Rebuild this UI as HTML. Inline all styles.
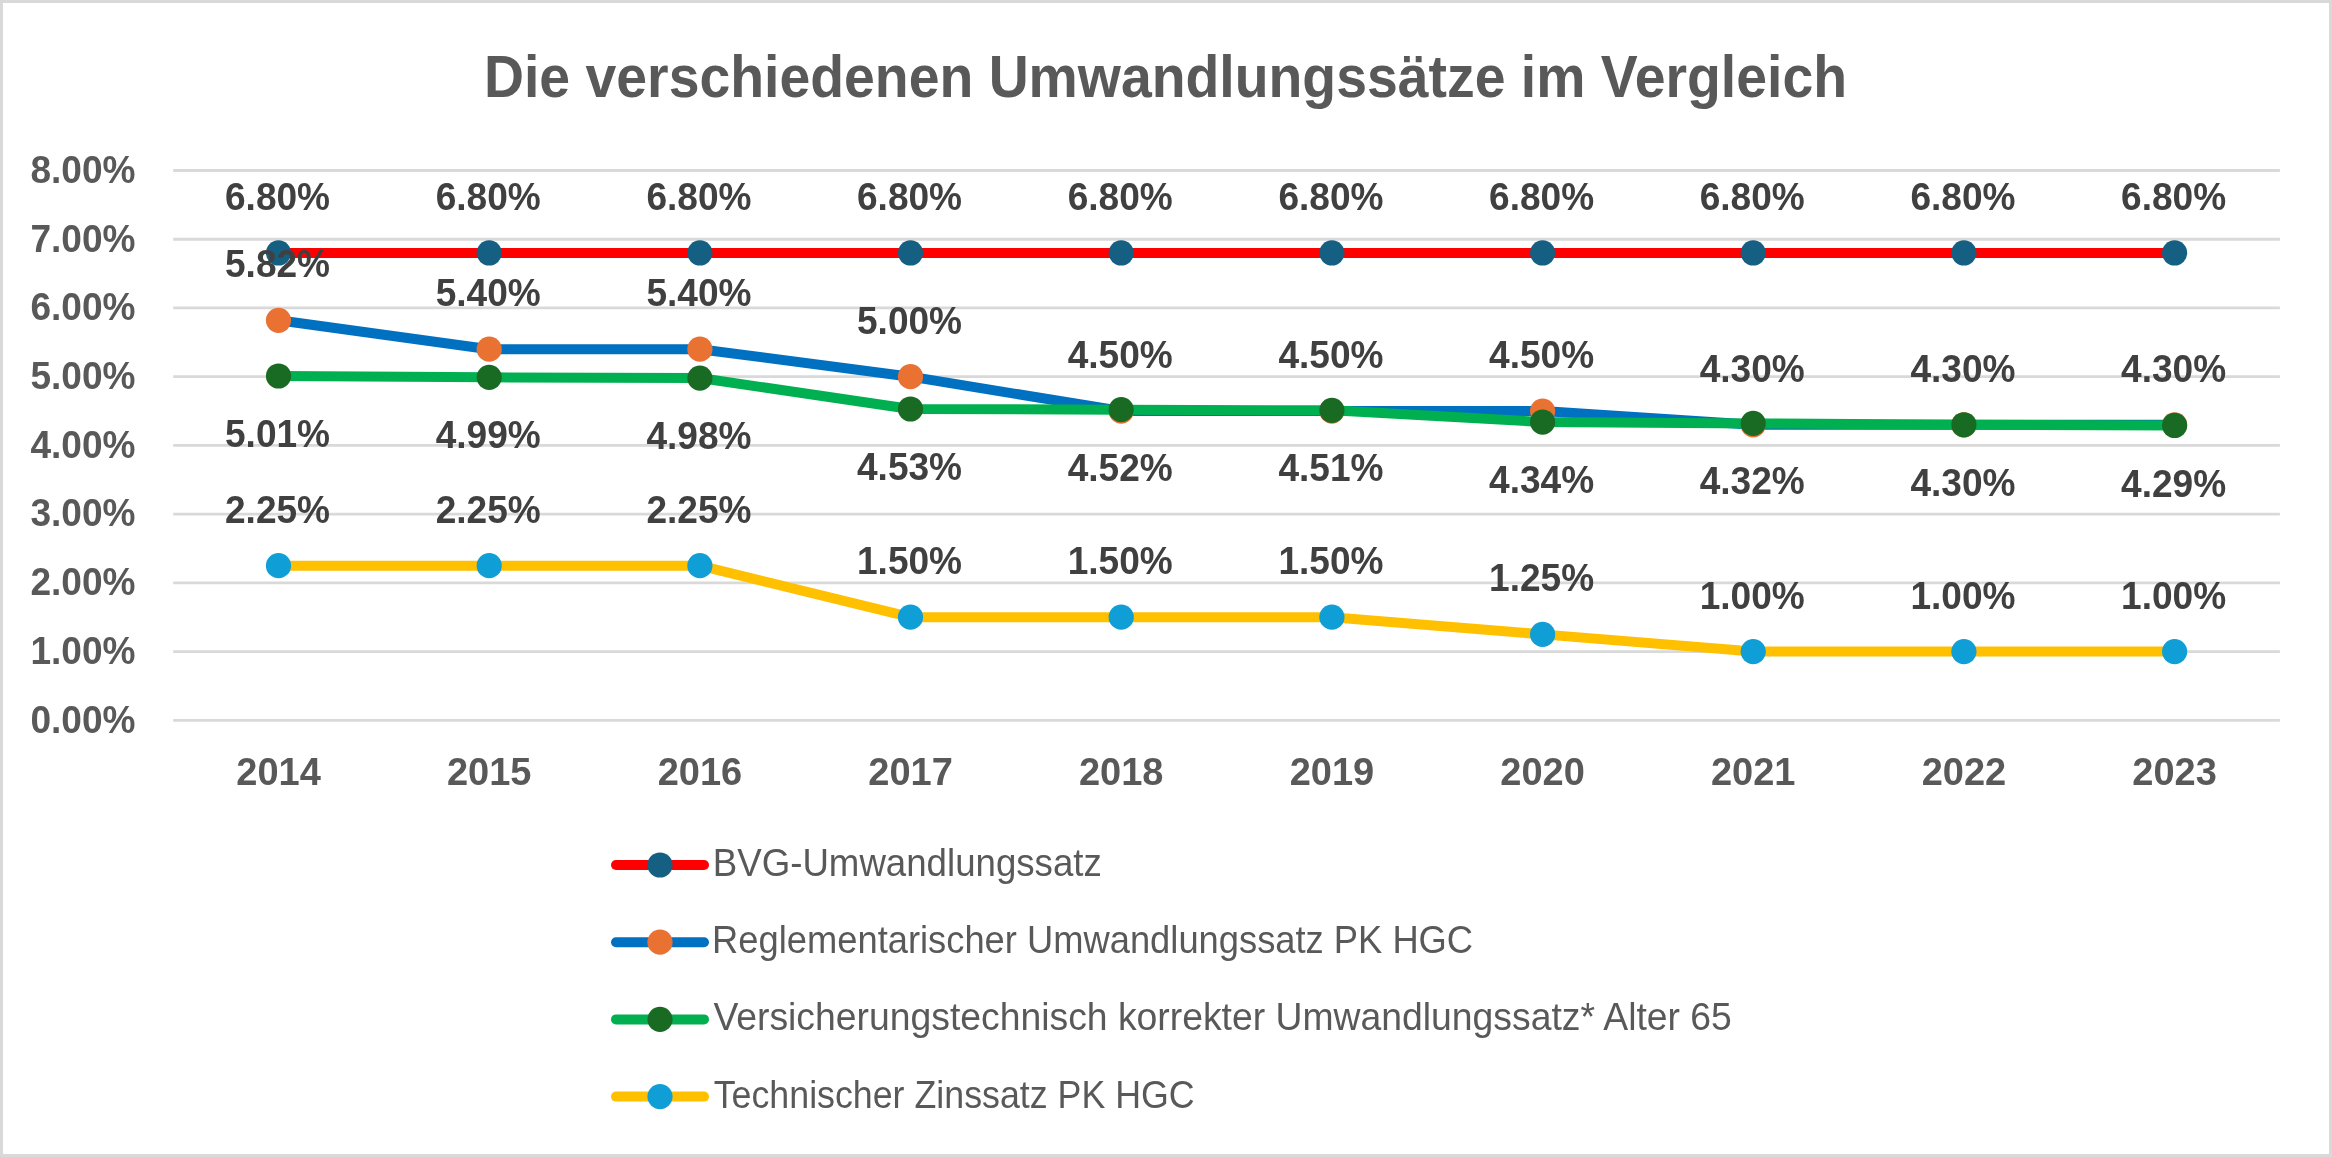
<!DOCTYPE html>
<html><head><meta charset="utf-8"><title>Die verschiedenen Umwandlungssätze im Vergleich</title><style>html,body{margin:0;padding:0;background:#fff;overflow:hidden;}svg{display:block;will-change:transform;}text{font-family:"Liberation Sans",sans-serif;}</style></head><body>
<svg width="2332" height="1157" viewBox="0 0 2332 1157">
<rect x="0" y="0" width="2332" height="1157" fill="#fff"/>
<rect x="1.5" y="1.5" width="2329" height="1154" fill="none" stroke="#D9D9D9" stroke-width="3"/>
<text x="484" y="97.2" font-size="60" font-weight="bold" fill="#595959" textLength="1363" lengthAdjust="spacingAndGlyphs">Die verschiedenen Umwandlungssätze im Vergleich</text>
<g stroke="#D9D9D9" stroke-width="2.8">
<line x1="173.2" y1="720.30" x2="2279.9" y2="720.30"/>
<line x1="173.2" y1="651.57" x2="2279.9" y2="651.57"/>
<line x1="173.2" y1="582.85" x2="2279.9" y2="582.85"/>
<line x1="173.2" y1="514.12" x2="2279.9" y2="514.12"/>
<line x1="173.2" y1="445.40" x2="2279.9" y2="445.40"/>
<line x1="173.2" y1="376.67" x2="2279.9" y2="376.67"/>
<line x1="173.2" y1="307.95" x2="2279.9" y2="307.95"/>
<line x1="173.2" y1="239.23" x2="2279.9" y2="239.23"/>
<line x1="173.2" y1="170.50" x2="2279.9" y2="170.50"/>
</g>
<g font-size="38.4" font-weight="bold" fill="#595959">
<text transform="translate(135.5 732.6) scale(0.965 1)" text-anchor="end">0.00%</text>
<text transform="translate(135.5 663.9) scale(0.965 1)" text-anchor="end">1.00%</text>
<text transform="translate(135.5 595.1) scale(0.965 1)" text-anchor="end">2.00%</text>
<text transform="translate(135.5 526.4) scale(0.965 1)" text-anchor="end">3.00%</text>
<text transform="translate(135.5 457.7) scale(0.965 1)" text-anchor="end">4.00%</text>
<text transform="translate(135.5 389.0) scale(0.965 1)" text-anchor="end">5.00%</text>
<text transform="translate(135.5 320.2) scale(0.965 1)" text-anchor="end">6.00%</text>
<text transform="translate(135.5 251.5) scale(0.965 1)" text-anchor="end">7.00%</text>
<text transform="translate(135.5 182.8) scale(0.965 1)" text-anchor="end">8.00%</text>
<text transform="translate(278.5 785) scale(0.99 1)" text-anchor="middle">2014</text>
<text transform="translate(489.2 785) scale(0.99 1)" text-anchor="middle">2015</text>
<text transform="translate(699.9 785) scale(0.99 1)" text-anchor="middle">2016</text>
<text transform="translate(910.5 785) scale(0.99 1)" text-anchor="middle">2017</text>
<text transform="translate(1121.2 785) scale(0.99 1)" text-anchor="middle">2018</text>
<text transform="translate(1331.9 785) scale(0.99 1)" text-anchor="middle">2019</text>
<text transform="translate(1542.6 785) scale(0.99 1)" text-anchor="middle">2020</text>
<text transform="translate(1753.2 785) scale(0.99 1)" text-anchor="middle">2021</text>
<text transform="translate(1963.9 785) scale(0.99 1)" text-anchor="middle">2022</text>
<text transform="translate(2174.6 785) scale(0.99 1)" text-anchor="middle">2023</text>
</g>
<polyline points="278.5,252.97 489.2,252.97 699.9,252.97 910.5,252.97 1121.2,252.97 1331.9,252.97 1542.6,252.97 1753.2,252.97 1963.9,252.97 2174.6,252.97" fill="none" stroke="#FF0000" stroke-width="10" stroke-linejoin="round" stroke-linecap="round"/>
<g fill="#156082">
<circle cx="278.5" cy="252.97" r="12.6"/>
<circle cx="489.2" cy="252.97" r="12.6"/>
<circle cx="699.9" cy="252.97" r="12.6"/>
<circle cx="910.5" cy="252.97" r="12.6"/>
<circle cx="1121.2" cy="252.97" r="12.6"/>
<circle cx="1331.9" cy="252.97" r="12.6"/>
<circle cx="1542.6" cy="252.97" r="12.6"/>
<circle cx="1753.2" cy="252.97" r="12.6"/>
<circle cx="1963.9" cy="252.97" r="12.6"/>
<circle cx="2174.6" cy="252.97" r="12.6"/>
</g>
<polyline points="278.5,320.32 489.2,349.18 699.9,349.18 910.5,376.67 1121.2,411.04 1331.9,411.04 1542.6,411.04 1753.2,424.78 1963.9,424.78 2174.6,424.78" fill="none" stroke="#0070C0" stroke-width="10" stroke-linejoin="round" stroke-linecap="round"/>
<g fill="#E97132">
<circle cx="278.5" cy="320.32" r="12.6"/>
<circle cx="489.2" cy="349.18" r="12.6"/>
<circle cx="699.9" cy="349.18" r="12.6"/>
<circle cx="910.5" cy="376.67" r="12.6"/>
<circle cx="1121.2" cy="411.04" r="12.6"/>
<circle cx="1331.9" cy="411.04" r="12.6"/>
<circle cx="1542.6" cy="411.04" r="12.6"/>
<circle cx="1753.2" cy="424.78" r="12.6"/>
<circle cx="1963.9" cy="424.78" r="12.6"/>
<circle cx="2174.6" cy="424.78" r="12.6"/>
</g>
<polyline points="278.5,375.99 489.2,377.36 699.9,378.05 910.5,408.98 1121.2,409.66 1331.9,410.35 1542.6,422.03 1753.2,423.41 1963.9,424.78 2174.6,425.47" fill="none" stroke="#00B050" stroke-width="10" stroke-linejoin="round" stroke-linecap="round"/>
<g fill="#196B24">
<circle cx="278.5" cy="375.99" r="12.6"/>
<circle cx="489.2" cy="377.36" r="12.6"/>
<circle cx="699.9" cy="378.05" r="12.6"/>
<circle cx="910.5" cy="408.98" r="12.6"/>
<circle cx="1121.2" cy="409.66" r="12.6"/>
<circle cx="1331.9" cy="410.35" r="12.6"/>
<circle cx="1542.6" cy="422.03" r="12.6"/>
<circle cx="1753.2" cy="423.41" r="12.6"/>
<circle cx="1963.9" cy="424.78" r="12.6"/>
<circle cx="2174.6" cy="425.47" r="12.6"/>
</g>
<polyline points="278.5,565.67 489.2,565.67 699.9,565.67 910.5,617.21 1121.2,617.21 1331.9,617.21 1542.6,634.39 1753.2,651.57 1963.9,651.57 2174.6,651.57" fill="none" stroke="#FFC000" stroke-width="10" stroke-linejoin="round" stroke-linecap="round"/>
<g fill="#0F9ED5">
<circle cx="278.5" cy="565.67" r="12.6"/>
<circle cx="489.2" cy="565.67" r="12.6"/>
<circle cx="699.9" cy="565.67" r="12.6"/>
<circle cx="910.5" cy="617.21" r="12.6"/>
<circle cx="1121.2" cy="617.21" r="12.6"/>
<circle cx="1331.9" cy="617.21" r="12.6"/>
<circle cx="1542.6" cy="634.39" r="12.6"/>
<circle cx="1753.2" cy="651.57" r="12.6"/>
<circle cx="1963.9" cy="651.57" r="12.6"/>
<circle cx="2174.6" cy="651.57" r="12.6"/>
</g>
<g font-size="38.4" font-weight="bold" fill="#404040">
<text transform="translate(277.5 210.0) scale(0.965 1)" text-anchor="middle">6.80%</text>
<text transform="translate(488.2 210.0) scale(0.965 1)" text-anchor="middle">6.80%</text>
<text transform="translate(698.9 210.0) scale(0.965 1)" text-anchor="middle">6.80%</text>
<text transform="translate(909.5 210.0) scale(0.965 1)" text-anchor="middle">6.80%</text>
<text transform="translate(1120.2 210.0) scale(0.965 1)" text-anchor="middle">6.80%</text>
<text transform="translate(1330.9 210.0) scale(0.965 1)" text-anchor="middle">6.80%</text>
<text transform="translate(1541.6 210.0) scale(0.965 1)" text-anchor="middle">6.80%</text>
<text transform="translate(1752.2 210.0) scale(0.965 1)" text-anchor="middle">6.80%</text>
<text transform="translate(1962.9 210.0) scale(0.965 1)" text-anchor="middle">6.80%</text>
<text transform="translate(2173.6 210.0) scale(0.965 1)" text-anchor="middle">6.80%</text>
<text transform="translate(277.5 277.3) scale(0.965 1)" text-anchor="middle">5.82%</text>
<text transform="translate(488.2 306.2) scale(0.965 1)" text-anchor="middle">5.40%</text>
<text transform="translate(698.9 306.2) scale(0.965 1)" text-anchor="middle">5.40%</text>
<text transform="translate(909.5 333.7) scale(0.965 1)" text-anchor="middle">5.00%</text>
<text transform="translate(1120.2 368.0) scale(0.965 1)" text-anchor="middle">4.50%</text>
<text transform="translate(1330.9 368.0) scale(0.965 1)" text-anchor="middle">4.50%</text>
<text transform="translate(1541.6 368.0) scale(0.965 1)" text-anchor="middle">4.50%</text>
<text transform="translate(1752.2 381.8) scale(0.965 1)" text-anchor="middle">4.30%</text>
<text transform="translate(1962.9 381.8) scale(0.965 1)" text-anchor="middle">4.30%</text>
<text transform="translate(2173.6 381.8) scale(0.965 1)" text-anchor="middle">4.30%</text>
<text transform="translate(277.5 447.0) scale(0.965 1)" text-anchor="middle">5.01%</text>
<text transform="translate(488.2 448.4) scale(0.965 1)" text-anchor="middle">4.99%</text>
<text transform="translate(698.9 449.0) scale(0.965 1)" text-anchor="middle">4.98%</text>
<text transform="translate(909.5 480.0) scale(0.965 1)" text-anchor="middle">4.53%</text>
<text transform="translate(1120.2 480.7) scale(0.965 1)" text-anchor="middle">4.52%</text>
<text transform="translate(1330.9 481.4) scale(0.965 1)" text-anchor="middle">4.51%</text>
<text transform="translate(1541.6 493.0) scale(0.965 1)" text-anchor="middle">4.34%</text>
<text transform="translate(1752.2 494.4) scale(0.965 1)" text-anchor="middle">4.32%</text>
<text transform="translate(1962.9 495.8) scale(0.965 1)" text-anchor="middle">4.30%</text>
<text transform="translate(2173.6 496.5) scale(0.965 1)" text-anchor="middle">4.29%</text>
<text transform="translate(277.5 522.7) scale(0.965 1)" text-anchor="middle">2.25%</text>
<text transform="translate(488.2 522.7) scale(0.965 1)" text-anchor="middle">2.25%</text>
<text transform="translate(698.9 522.7) scale(0.965 1)" text-anchor="middle">2.25%</text>
<text transform="translate(909.5 574.2) scale(0.965 1)" text-anchor="middle">1.50%</text>
<text transform="translate(1120.2 574.2) scale(0.965 1)" text-anchor="middle">1.50%</text>
<text transform="translate(1330.9 574.2) scale(0.965 1)" text-anchor="middle">1.50%</text>
<text transform="translate(1541.6 591.4) scale(0.965 1)" text-anchor="middle">1.25%</text>
<text transform="translate(1752.2 608.6) scale(0.965 1)" text-anchor="middle">1.00%</text>
<text transform="translate(1962.9 608.6) scale(0.965 1)" text-anchor="middle">1.00%</text>
<text transform="translate(2173.6 608.6) scale(0.965 1)" text-anchor="middle">1.00%</text>
</g>
<line x1="616" y1="865.0" x2="704" y2="865.0" stroke="#FF0000" stroke-width="10" stroke-linecap="round"/>
<circle cx="660" cy="865.0" r="12.6" fill="#156082"/>
<text x="712.8" y="876.0" font-size="38.5" fill="#595959" textLength="389" lengthAdjust="spacingAndGlyphs">BVG-Umwandlungssatz</text>
<line x1="616" y1="942.2" x2="704" y2="942.2" stroke="#0070C0" stroke-width="10" stroke-linecap="round"/>
<circle cx="660" cy="942.2" r="12.6" fill="#E97132"/>
<text x="712.1" y="953.2" font-size="38.5" fill="#595959" textLength="761" lengthAdjust="spacingAndGlyphs">Reglementarischer Umwandlungssatz PK HGC</text>
<line x1="616" y1="1019.4" x2="704" y2="1019.4" stroke="#00B050" stroke-width="10" stroke-linecap="round"/>
<circle cx="660" cy="1019.4" r="12.6" fill="#196B24"/>
<text x="713.4" y="1030.4" font-size="38.5" fill="#595959" textLength="1018.5" lengthAdjust="spacingAndGlyphs">Versicherungstechnisch korrekter Umwandlungssatz* Alter 65</text>
<line x1="616" y1="1096.6" x2="704" y2="1096.6" stroke="#FFC000" stroke-width="10" stroke-linecap="round"/>
<circle cx="660" cy="1096.6" r="12.6" fill="#0F9ED5"/>
<text x="713.7" y="1107.6" font-size="38.5" fill="#595959" textLength="481" lengthAdjust="spacingAndGlyphs">Technischer Zinssatz PK HGC</text>
</svg></body></html>
